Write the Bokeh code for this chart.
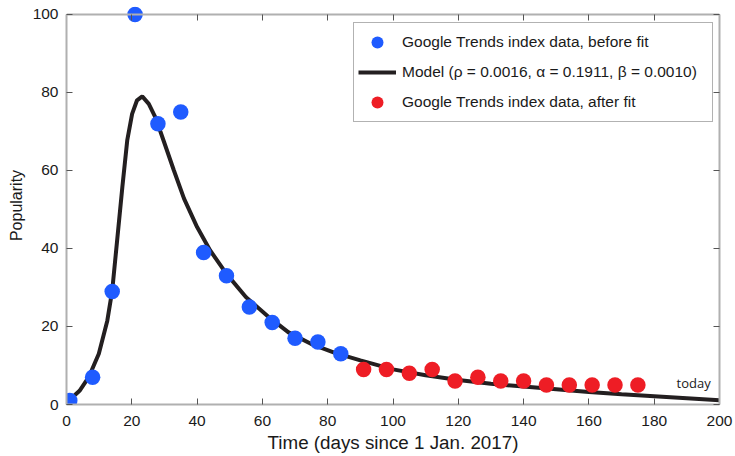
from bokeh.plotting import figure
from bokeh.models import (Range1d, Legend, LegendItem, FixedTicker, Label, LinearAxis,
                          CustomJSTickFormatter)
from bokeh.embed import file_html
from bokeh.resources import INLINE

# ---- data ----
before_x = [1, 8, 14, 21, 28, 35, 42, 49, 56, 63, 70, 77, 84]
before_y = [1, 7, 29, 100, 72, 75, 39, 33, 25, 21, 17, 16, 13]
after_x = [91, 98, 105, 112, 119, 126, 133, 140, 147, 154, 161, 168, 175]
after_y = [9, 9, 8, 9, 6, 7, 6, 6, 5, 5, 5, 5, 5]
model_x = [1, 4, 6.8, 9.9, 12.5, 14, 15.5, 17.1, 18.6, 20.1, 21.6, 23.2, 25.2, 27.3,
           29.8, 32.9, 36, 40, 44, 49, 55, 62, 68, 75, 82, 90, 100, 110, 120, 130,
           140, 150, 160, 170, 180, 190, 200]
model_y = [1.2, 3.5, 7, 13, 21.5, 29.2, 42, 55.7, 67.7, 74.5, 78, 79, 77.1, 73.5,
           67.5, 60, 52.8, 45.5, 39.5, 33.5, 27.5, 22.4, 18.5, 15.5, 13.3, 11.3, 9.0,
           7.5, 6.3, 5.3, 4.6, 3.9, 3.2, 2.6, 2.1, 1.6, 1.1]
x_ticks = [0, 20, 40, 60, 80, 100, 120, 140, 160, 180, 200]
y_ticks = [0, 20, 40, 60, 80, 100]
x_title = "Time (days since 1 Jan. 2017)"
y_title = "Popularity"
legend_labels = ["Google Trends index data, before fit",
                 "Model (\u03c1 = 0.0016, \u03b1 = 0.1911, \u03b2 = 0.0010)",
                 "Google Trends index data, after fit"]
today_label = "today"
today_x, today_y = 197.3, 5.6

BLUE = "#1f5bff"
RED = "#ee1d25"
LINE = "#231f20"
FRAME = "#b0b0b0"
TICK = "#555555"
TXT = "#1a1a1a"
FONT = "Liberation Sans"

xmin, xmax = x_ticks[0], x_ticks[-1]
ymin, ymax = y_ticks[0], y_ticks[-1]

p = figure(width=735, height=456, output_backend="svg", toolbar_location=None,
           x_range=Range1d(xmin, xmax), y_range=Range1d(ymin, 102.05),
           x_axis_location=None, y_axis_location=None,
           min_border_left=66, min_border_right=16, min_border_top=6, min_border_bottom=52)
p.outline_line_color = None
p.grid.visible = False
p.background_fill_color = "white"
p.border_fill_color = "white"


def frame_axis(ax, ticks, labels):
    ax.ticker = FixedTicker(ticks=ticks)
    ax.axis_line_color = FRAME
    ax.axis_line_width = 2
    ax.major_tick_line_color = TICK
    ax.major_tick_line_width = 1
    ax.major_tick_in = 6
    ax.major_tick_out = 0
    ax.minor_tick_line_color = None
    if labels:
        ax.major_label_text_font = FONT
        ax.major_label_text_font_size = "15.5px"
        ax.major_label_text_color = TXT
        ax.axis_label_text_font = FONT
        ax.axis_label_text_font_style = "normal"
        ax.axis_label_text_color = TXT
    else:
        ax.formatter = CustomJSTickFormatter(code="return ''")
        ax.major_label_text_font_size = "0px"
        ax.major_label_standoff = 0
    return ax


bottom = frame_axis(LinearAxis(bounds=(xmin, xmax), axis_label=x_title), x_ticks, True)
bottom.axis_label_text_font_size = "18.8px"
bottom.major_label_standoff = 11
bottom.axis_label_standoff = 3
p.add_layout(bottom, "below")

left = frame_axis(LinearAxis(bounds=(ymin, ymax), axis_label=y_title), y_ticks, True)
left.axis_label_text_font_size = "16px"
left.major_label_standoff = 8
left.axis_label_standoff = 5
p.add_layout(left, "left")

top = frame_axis(LinearAxis(bounds=(xmin, xmax), fixed_location=ymax), x_ticks, False)
p.add_layout(top, "above")

right = frame_axis(LinearAxis(bounds=(ymin, ymax)), y_ticks, False)
p.add_layout(right, "right")

r_line = p.line(model_x, model_y, line_color=LINE, line_width=4)
r_before = p.scatter(before_x, before_y, size=15.5, fill_color=BLUE, line_color=None)
r_after = p.scatter(after_x, after_y, size=15.5, fill_color=RED, line_color=None)

p.add_layout(Label(x=today_x, y=today_y, text=today_label, text_align="right",
                   text_baseline="middle", text_font="Open Sans",
                   text_font_size="13px", text_color=TXT))

legend = Legend(items=[LegendItem(label=legend_labels[0], renderers=[r_before]),
                       LegendItem(label=legend_labels[1], renderers=[r_line]),
                       LegendItem(label=legend_labels[2], renderers=[r_after])],
                location=(287, 282))
legend.label_text_font = FONT
legend.label_text_font_size = "15.5px"
legend.label_text_color = TXT
legend.glyph_width = 38
legend.glyph_height = 30
legend.label_height = 30
legend.label_width = 306
legend.spacing = 0
legend.padding = 4
legend.label_standoff = 6
legend.border_line_color = "#666666"
legend.border_line_width = 1
legend.background_fill_alpha = 1
p.add_layout(legend)

open("out.html", "w").write(file_html(p, INLINE))
